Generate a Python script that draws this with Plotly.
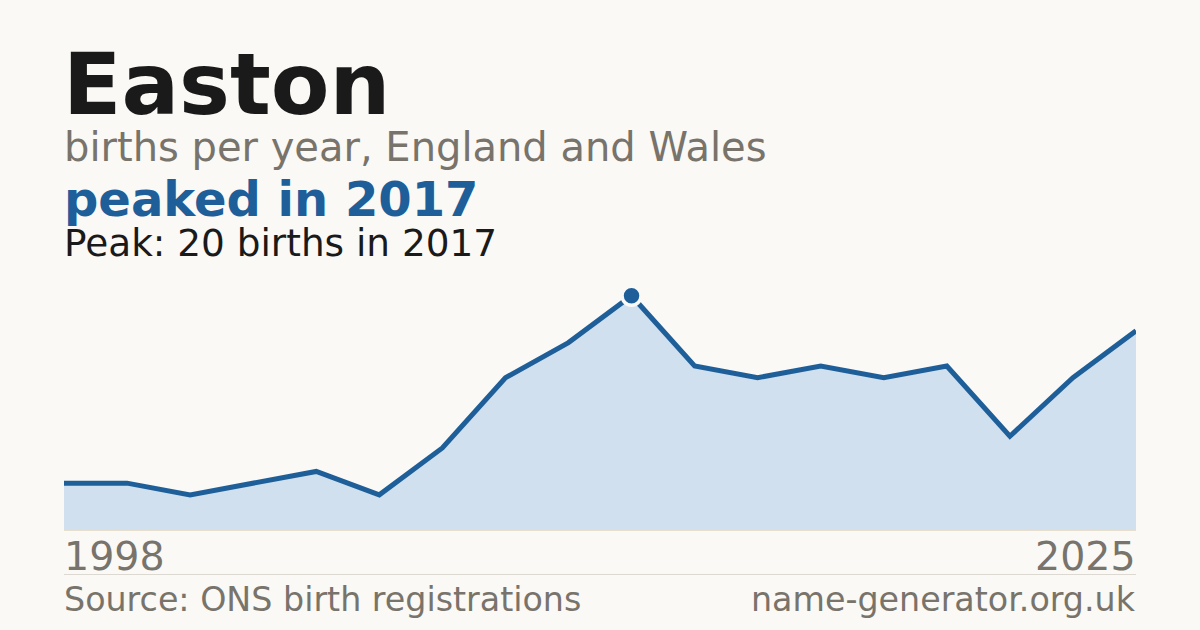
import plotly.graph_objects as go

years = ["1998", "2009", "2010", "2011", "2012", "2013", "2014", "2015", "2016",
         "2017", "2018", "2019", "2020", "2021", "2022", "2023", "2024", "2025"]
births = [4, 4, 3, 4, 5, 3, 7, 13, 16, 20, 14, 13, 14, 13, 14, 8, 13, 17]
peak_year = "2017"
peak_value = 20

W, H = 1200, 630
BG = "#faf9f5"
BLUE = "#1f5f99"
GRAY = "#78736b"
FONT = "DejaVu Sans"

def py(pix):
    return 1 - pix / H

def px(pix):
    return pix / W

fig = go.Figure()
fig.add_trace(go.Scatter(
    x=years, y=births, mode="lines",
    line=dict(color=BLUE, width=5),
    fill="tozeroy", fillcolor="#d0e0ef",
    hoverinfo="skip", showlegend=False,
))
fig.add_trace(go.Scatter(
    x=[peak_year], y=[peak_value], mode="markers",
    marker=dict(size=19, color=BLUE, line=dict(color=BG, width=3.5)),
    hoverinfo="skip", showlegend=False,
))

fig.update_layout(
    width=W, height=H,
    paper_bgcolor=BG, plot_bgcolor=BG,
    margin=dict(l=0, r=0, t=0, b=0),
    font=dict(family=FONT),
    xaxis=dict(type="category", domain=[px(64), px(1136)], range=[0, len(years) - 1],
               showgrid=False, zeroline=False, showticklabels=False, showline=False),
    yaxis=dict(domain=[py(530), py(284)], range=[0, 21],
               showgrid=False, zeroline=False, showticklabels=False, showline=False),
    shapes=[
        dict(type="line", xref="paper", yref="paper", x0=px(64), x1=px(1136),
             y0=py(530.5), y1=py(530.5), line=dict(color="#e8dfcf", width=1)),
        dict(type="line", xref="paper", yref="paper", x0=px(64), x1=px(1136),
             y0=py(574.5), y1=py(574.5), line=dict(color="#dcd9d3", width=1)),
    ],
)

def ann(text, x, y, size, color, xanchor="left", bold=False):
    fig.add_annotation(
        text=text, xref="paper", yref="paper", x=px(x), y=py(y),
        xanchor=xanchor, yanchor="middle", showarrow=False,
        font=dict(family=FONT, size=size, color=color, weight=700 if bold else 400),
    )

ann("Easton", 61, 84.5, 85.5, "#1a1a1a", bold=True)
ann("births per year, England and Wales", 62, 147, 40, GRAY)
ann("peaked in 2017", 62, 199, 48, BLUE, bold=True)
ann("Peak: 20 births in 2017", 62, 243, 37.4, "#1a1a1a")
ann(years[0], 62, 556, 39.5, GRAY)
ann(years[-1], 1138, 556, 39.5, GRAY, xanchor="right")
ann("Source: ONS birth registrations", 62, 599, 33.3, GRAY)
ann("name-generator.org.uk", 1138, 599, 33.3, GRAY, xanchor="right")

fig.write_html("out.html", config={"displayModeBar": False})
with open("out.html", encoding="utf-8") as f:
    html = f.read()
html = html.replace("<head>", "<head><style>html,body{margin:0;padding:0;background:#faf9f5;}</style>", 1)
with open("out.html", "w", encoding="utf-8") as f:
    f.write(html)
